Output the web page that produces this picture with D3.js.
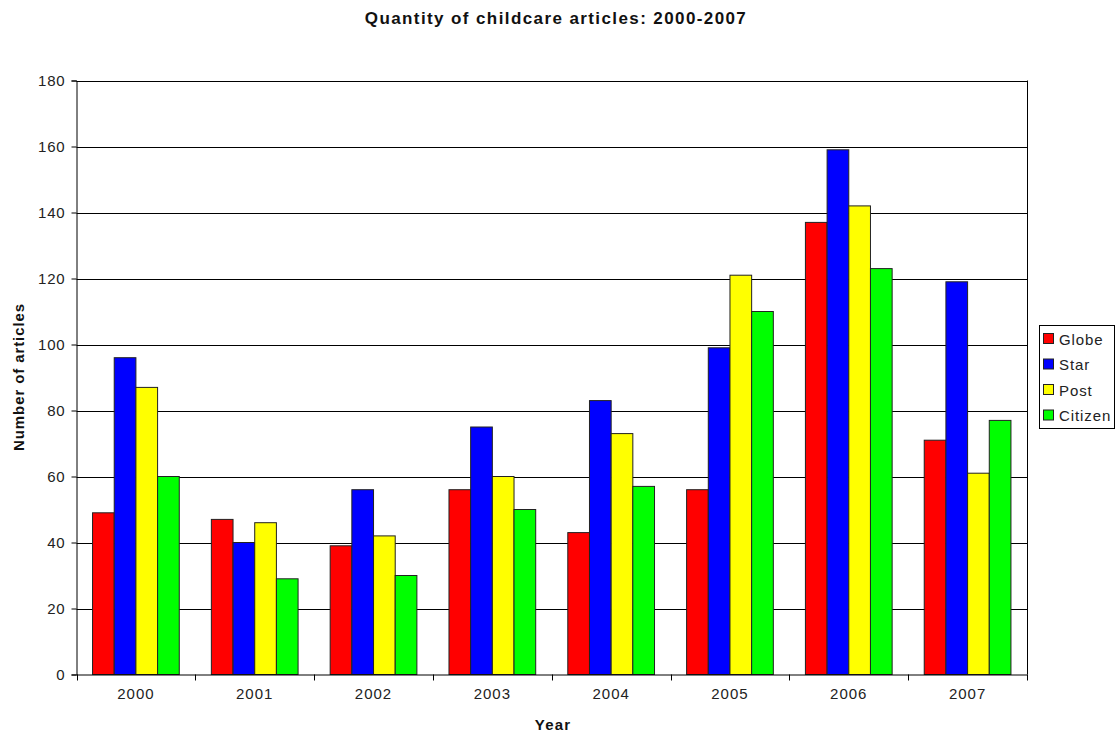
<!DOCTYPE html>
<html><head><meta charset="utf-8">
<script src="https://cdn.jsdelivr.net/npm/d3@7"></script>
<style>body{margin:0;background:#fff;font-family:"Liberation Sans",Arial,sans-serif}</style>
</head><body>
<svg id="c" width="1115" height="734"></svg>
<script>
const years = ["2000","2001","2002","2003","2004","2005","2006","2007"];
const seriesNames = ["Globe","Star","Post","Citizen"];
const colors = ["#ff0000","#0000ff","#ffff00","#00ff00"];
const globe = [49,47,39,56,43,56,137,71];
const star = [96,40,56,75,83,99,159,119];
const post = [87,46,42,60,73,121,142,61];
const citizen = [60,29,30,50,57,110,123,77];
const yTicks = [0,20,40,60,80,100,120,140,160,180];
const seriesVals = [globe,star,post,citizen];

const svg = d3.select("#c");
const FF = "Liberation Sans, Arial, sans-serif";
const m = {l:76.5, r:1027, t:80.5, b:674.5};
const x = d3.scaleBand().domain(years).range([m.l,m.r]).paddingInner(0).paddingOuter(0);
const xs = d3.scaleBand().domain(seriesNames).range([0,x.bandwidth()]).paddingOuter(0.74).paddingInner(0);
const y = d3.scaleLinear().domain([0,180]).range([m.b,m.t]);

// gridlines
svg.append("g").selectAll("line").data(yTicks.filter(d=>d>0)).join("line")
  .attr("x1",m.l).attr("x2",m.r).attr("y1",d=>Math.round(y(d))+0.5).attr("y2",d=>Math.round(y(d))+0.5)
  .attr("stroke","#000").attr("stroke-width",1);
// right border
svg.append("line").attr("x1",m.r+0.5).attr("x2",m.r+0.5).attr("y1",m.t).attr("y2",m.b).attr("stroke","#000");

// bars
const g = svg.append("g");
years.forEach((yr,i)=>{
  seriesNames.forEach((s,j)=>{
    const v = seriesVals[j][i];
    g.append("rect").attr("x",x(yr)+xs(s)).attr("y",y(v)).attr("width",xs.bandwidth()).attr("height",y(0)-y(v))
      .attr("fill",colors[j]).attr("stroke","#222").attr("stroke-width",1);
  });
});

// y axis
const ya = svg.append("g").attr("transform",`translate(${m.l},0)`)
  .call(d3.axisLeft(y).tickValues(yTicks).tickSize(5).tickPadding(6));
ya.select(".domain").attr("stroke","#000");
ya.selectAll(".tick line").attr("stroke","#000");
ya.selectAll("text").attr("font-size",15).attr("letter-spacing",0.8).attr("fill","#222").attr("font-family",FF);

// x axis
const xa = svg.append("g").attr("transform",`translate(0,${m.b})`)
  .call(d3.axisBottom(x).tickSize(0).tickPadding(14));
xa.select(".domain").attr("stroke","#000");
xa.selectAll("text").attr("font-size",15).attr("letter-spacing",1).attr("fill","#222").attr("font-family",FF);
// boundary tick marks
svg.append("g").selectAll("line").data(years.concat(["end"])).join("line")
  .attr("x1",(d,i)=>Math.round(m.l + i*x.step())+0.5).attr("x2",(d,i)=>Math.round(m.l + i*x.step())+0.5)
  .attr("y1",m.b).attr("y2",m.b+6).attr("stroke","#000");

// title
svg.append("text").attr("x",556).attr("y",24).attr("text-anchor","middle").attr("font-size",17)
  .attr("letter-spacing",1.4).attr("font-weight","bold").attr("fill","#111").attr("font-family",FF)
  .text("Quantity of childcare articles: 2000-2007");
svg.append("text").attr("x",553).attr("y",730).attr("text-anchor","middle").attr("font-size",15)
  .attr("letter-spacing",1.2).attr("font-weight","bold").attr("fill","#111").attr("font-family",FF).text("Year");
svg.append("text").attr("transform","translate(24,377) rotate(-90)").attr("text-anchor","middle").attr("font-size",15)
  .attr("letter-spacing",0.9).attr("font-weight","bold").attr("fill","#111").attr("font-family",FF).text("Number of articles");

// legend
const lg = svg.append("g");
lg.append("rect").attr("x",1039.5).attr("y",325.5).attr("width",75).attr("height",103).attr("fill","#fff").attr("stroke","#000");
seriesNames.forEach((s,j)=>{
  const cy = 339 + j*25.5;
  lg.append("rect").attr("x",1043.5).attr("y",cy-5.5).attr("width",10).attr("height",10).attr("fill",colors[j]).attr("stroke","#222");
  lg.append("text").attr("x",1059).attr("y",cy+5.5).attr("font-size",15).attr("letter-spacing",0.9)
    .attr("fill","#222").attr("font-family",FF).text(s);
});
</script>
</body></html>
